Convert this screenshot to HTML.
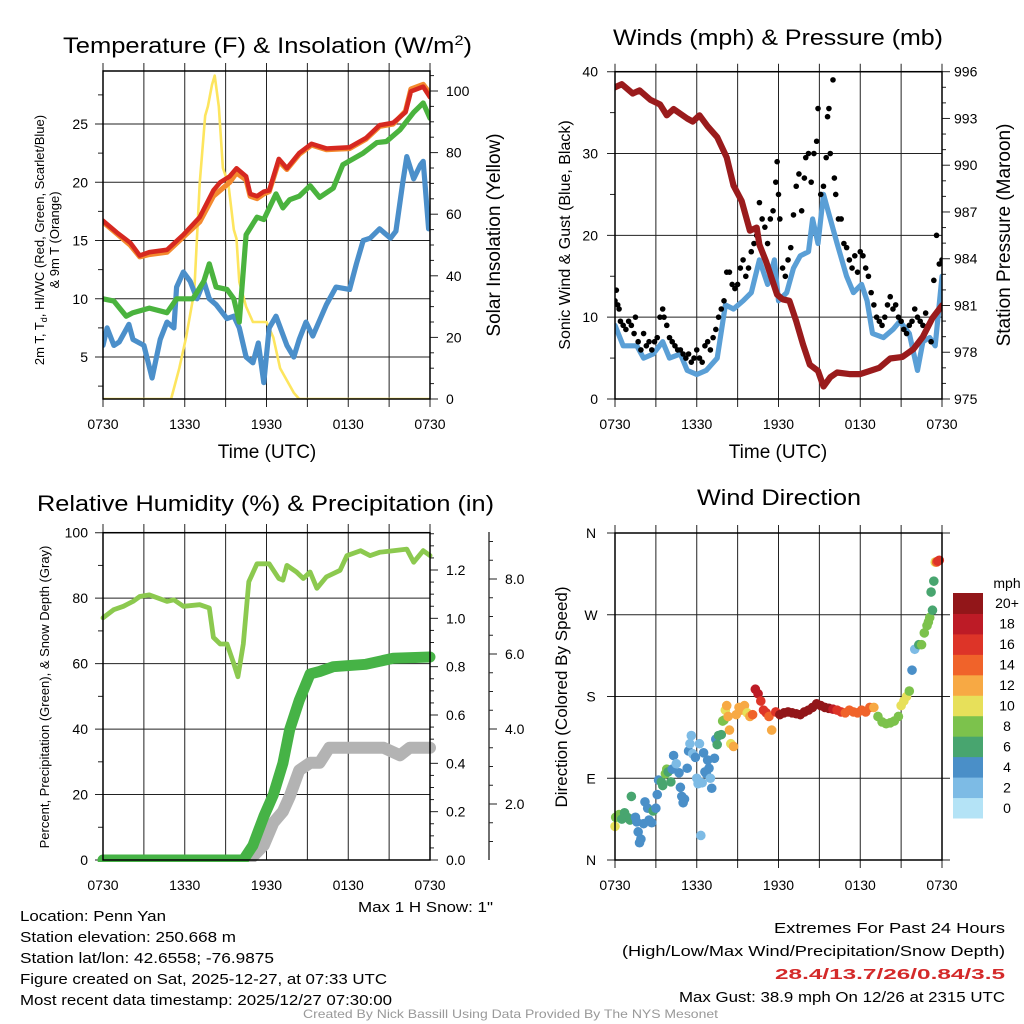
<!DOCTYPE html>
<html><head><meta charset="utf-8"><style>
html,body{margin:0;padding:0;background:#fff;}
svg{display:block;font-family:"Liberation Sans",sans-serif;}
</style></head><body>
<svg id="s" width="1024" height="1024" viewBox="0 0 1024 1024">
<defs>
<clipPath id="c1"><rect x="103" y="71" width="327" height="328"/></clipPath>
<clipPath id="c2"><rect x="615" y="71" width="327" height="328"/></clipPath>
<clipPath id="c3"><rect x="96" y="532" width="340" height="330"/></clipPath>
<clipPath id="c4"><rect x="606" y="522" width="345" height="345"/></clipPath>
</defs>
<g id="g1"></g>
<g id="g2"></g>
<g id="g3"></g>
<g id="g4"></g>
<g id="txt">
<text x="63" y="53" font-size="22" textLength="409" lengthAdjust="spacingAndGlyphs">Temperature (F) &amp; Insolation (W/m<tspan font-size="14" dy="-8">2</tspan><tspan dy="8">)</tspan></text>
<text x="613" y="45" font-size="22" textLength="330" lengthAdjust="spacingAndGlyphs">Winds (mph) &amp; Pressure (mb)</text>
<text x="37" y="511" font-size="22" textLength="457" lengthAdjust="spacingAndGlyphs">Relative Humidity (%) &amp; Precipitation (in)</text>
<text x="697" y="505" font-size="22" textLength="164" lengthAdjust="spacingAndGlyphs">Wind Direction</text>
<text x="267" y="458" font-size="19" text-anchor="middle">Time (UTC)</text>
<text x="778" y="458" font-size="19" text-anchor="middle">Time (UTC)</text>
<text transform="translate(44,240) rotate(-90)" font-size="13" text-anchor="middle">2m T, T<tspan font-size="9" dy="3">d</tspan><tspan dy="-3">, HI/WC (Red, Green, Scarlet/Blue)</tspan></text>
<text transform="translate(59,240) rotate(-90)" font-size="13" text-anchor="middle">&amp; 9m T (Orange)</text>
<text transform="translate(500,235) rotate(-90)" font-size="19" text-anchor="middle">Solar Insolation (Yellow)</text>
<text transform="translate(570,235) rotate(-90)" font-size="16" text-anchor="middle">Sonic Wind &amp; Gust (Blue, Black)</text>
<text transform="translate(1010,235) rotate(-90)" font-size="19" text-anchor="middle">Station Pressure (Maroon)</text>
<text transform="translate(49,697) rotate(-90)" font-size="13" text-anchor="middle">Percent, Precipitation (Green), &amp; Snow Depth (Gray)</text>
<text transform="translate(567,697) rotate(-90)" font-size="17" text-anchor="middle">Direction (Colored By Speed)</text>
<text x="358" y="912" font-size="15" textLength="135" lengthAdjust="spacingAndGlyphs">Max 1 H Snow: 1"</text>
<text x="20" y="921" font-size="15" textLength="146" lengthAdjust="spacingAndGlyphs">Location: Penn Yan</text>
<text x="20" y="942" font-size="15" textLength="216" lengthAdjust="spacingAndGlyphs">Station elevation: 250.668 m</text>
<text x="20" y="963" font-size="15" textLength="254" lengthAdjust="spacingAndGlyphs">Station lat/lon: 42.6558; -76.9875</text>
<text x="20" y="984" font-size="15" textLength="367" lengthAdjust="spacingAndGlyphs">Figure created on Sat, 2025-12-27, at 07:33 UTC</text>
<text x="20" y="1005" font-size="15" textLength="372" lengthAdjust="spacingAndGlyphs">Most recent data timestamp: 2025/12/27 07:30:00</text>
<text x="1005" y="933" font-size="15" text-anchor="end" textLength="231" lengthAdjust="spacingAndGlyphs">Extremes For Past 24 Hours</text>
<text x="1005" y="956" font-size="15" text-anchor="end" textLength="383" lengthAdjust="spacingAndGlyphs">(High/Low/Max Wind/Precipitation/Snow Depth)</text>
<text x="1005" y="979" font-size="15" font-weight="bold" fill="#d42a2a" text-anchor="end" textLength="230" lengthAdjust="spacingAndGlyphs">28.4/13.7/26/0.84/3.5</text>
<text x="1005" y="1002" font-size="15" text-anchor="end" textLength="326" lengthAdjust="spacingAndGlyphs">Max Gust: 38.9 mph On 12/26 at 2315 UTC</text>
<text x="303" y="1018" font-size="12" fill="#999" textLength="415" lengthAdjust="spacingAndGlyphs">Created By Nick Bassill Using Data Provided By The NYS Mesonet</text>
</g>
</svg>
<script>
// ---- shared categories ----
const timeTickLabels = ["0730","1330","1930","0130","0730"];
// ---- Panel 1 data (hours since 0730) ----
const redT = [0,1,2,2.7,3.4,4.7,5.9,7.1,8.1,8.6,9.3,9.8,10.5,10.8,11.3,11.8,12.2,12.9,13.5,14.4,15.3,16.4,18.1,19.3,20.3,21.3,22.2,22.6,23.5,24];
const redV = [16.7,15.7,14.8,13.7,14.0,14.2,15.5,17.0,19.3,20.0,20.5,21.2,20.5,19.0,18.8,19.2,19.3,22.0,21.2,22.5,23.3,22.9,23.0,23.8,24.9,25.1,26.0,27.8,28.2,27.3];
const orangeV = [16.6,15.6,14.6,13.6,13.8,14.0,15.3,16.6,18.8,19.3,20.0,20.8,20.2,18.8,18.6,19.0,19.2,21.8,21.1,22.4,23.2,22.8,22.9,23.7,24.8,25.0,26.1,28.0,28.4,27.6];
const greenT = [0,0.8,1.7,2.2,3.4,4.7,5.4,6.6,7.4,7.8,8.3,9.1,9.6,10.0,10.5,11.3,11.8,12.7,13.2,13.7,14.4,15.2,15.9,16.9,17.6,19.1,20.1,20.8,21.8,22.8,23.5,24];
const greenV = [10.0,9.8,8.5,8.8,9.2,8.8,10.0,10.0,11.5,13.0,11.0,10.8,10.0,8.0,15.5,17.0,16.8,19.0,17.8,18.5,18.8,19.7,18.7,19.5,21.5,22.5,23.4,23.5,24.5,26.0,26.8,25.5];
const blueT = [0,0.3,0.8,1.2,1.9,2.2,3.0,3.6,4.2,4.7,5.2,5.4,5.9,6.4,6.9,7.4,7.8,8.3,9.1,9.6,10.0,10.5,11.0,11.4,11.8,12.2,12.7,13.5,14.0,14.4,14.9,15.4,16.4,17.1,18.1,18.6,19.1,19.6,20.3,21.1,21.5,22.0,22.3,22.8,23.3,23.5,23.9];
const blueV = [6.0,7.5,6.0,6.3,7.8,6.5,6.0,3.2,6.5,8.0,7.5,11.0,12.3,11.5,10.0,11.5,10.0,9.5,8.3,8.5,7.5,5.0,4.5,6.2,2.8,7.5,8.5,6.0,5.0,6.5,8.0,6.8,9.5,11.0,10.8,13.0,15.0,15.2,16.0,15.2,15.8,20.0,22.2,20.3,21.5,21.8,16.0];
const solarT = [0,5.0,5.6,6.1,6.7,7.1,7.5,7.7,8.0,8.2,8.5,8.8,9.2,9.6,9.8,10.0,10.5,11.0,11.5,12.0,12.5,13.0,14.0,14.4,24];
const solarV = [0,0,10,20,35,70,92,95,102,105,95,75,70,55,52,38,30,25,25,25,20,10,2,0,0];
const tempTicks = [5,10,15,20,25];
const solarTicks = [0,20,40,60,80,100];
// ---- Panel 2 data ----
const windT = [0,0.6,1.6,2.1,2.8,3.5,4.0,4.8,5.3,6.0,6.7,7.5,8.1,8.7,9.4,10.0,10.6,11.2,11.7,12.0,12.6,13.1,13.6,14.2,14.5,14.9,15.3,15.8,16.3,17.0,17.5,18.1,18.5,18.9,19.7,20.4,20.9,21.6,22.2,22.6,23.1,23.5,24];
const windV = [9,6.5,6.5,5,5.5,7,5,5.5,3.5,3,3.5,5,11.5,11,12,13,17,14,17,12,13,16,17.5,18,22,19,25,22,19,15,13,14,12,8,7.5,8.5,9.5,8,3.5,7,7.5,6.5,15];
const gustT = [0,0.1,0.2,0.3,0.4,0.6,0.8,1.0,1.2,1.4,1.5,1.7,1.9,2.1,2.3,2.5,2.7,2.9,3.1,3.3,3.5,3.6,3.8,4.0,4.2,4.4,4.6,4.8,5.0,5.2,5.4,5.6,5.8,6.0,6.2,6.4,6.6,6.8,7.0,7.2,7.4,7.6,7.8,8.0,8.2,8.4,8.6,8.8,9.0,9.2,9.4,9.6,9.8,10.0,10.2,10.4,10.6,10.8,11.0,11.2,11.4,11.6,11.8,11.9,12.0,12.1,12.3,12.5,12.7,12.9,13.1,13.3,13.5,13.7,13.9,14.0,14.2,14.4,14.6,14.8,14.9,15.1,15.3,15.5,15.6,15.7,15.8,16.0,16.1,16.2,16.4,16.6,16.8,17.0,17.2,17.4,17.6,17.8,18.0,18.2,18.4,18.6,18.8,19.0,19.2,19.4,19.6,19.8,20.0,20.2,20.4,20.6,20.8,21.0,21.2,21.4,21.6,21.8,22.0,22.2,22.4,22.6,22.8,23.0,23.2,23.4,23.6,23.8,24.0];
const gustV = [12,13.3,11.5,11,9.5,9,8.5,9.5,9,8,10,7,6,8,6.5,7,6,7,7.5,10,11,10,9,7.5,7,6.5,6,6,5.5,5,5.5,4.5,5,6,5,4.5,6.5,7,6,7.5,8.5,10,11,12,15.5,15.5,14,13.5,14,16,17,15,16,18,19,20,24,22,21,19,22,23,26.5,29,25,22,16,15,17,18.5,22.5,26,27.5,23,27,29.5,30,26.5,30,31.5,35.5,25,26,29.5,34.5,35.5,30,39,27,25,22,22,19,18.5,17,16,17.5,15.5,18,17.5,16,15,13,11.5,10,9.5,9,10,11.5,12.5,11,11.5,10,9.5,8.5,8,9,9.5,11,10,9.5,9,10.5,9,7,14.5,20,16.5,17];
const presT = [0,0.5,1.3,1.8,2.6,3.3,3.8,4.3,5.3,5.7,6.2,6.8,7.5,8.2,8.7,9.3,9.9,10.4,10.6,11.1,11.9,12.3,12.8,13.3,13.8,14.3,14.9,15.3,15.8,16.3,17.2,18.0,18.7,19.4,20.2,21.1,21.9,22.6,23.3,24];
const presV = [995.0,995.2,994.6,994.8,994.2,993.9,993.2,993.6,993.0,992.8,993.2,992.5,991.8,990.5,988.7,987.7,985.8,986.0,984.9,983.8,981.7,981.4,981.3,980.0,978.5,977.2,976.8,975.8,976.4,976.7,976.6,976.6,976.8,977.0,977.6,977.7,978.2,979.0,980.2,981.0];
const windTicks = [0,10,20,30,40];
const presTicks = [975,978,981,984,987,990,993,996];
// ---- Panel 3 data ----
const rhT = [0,0.8,1.5,2.2,2.7,3.4,4.7,5.2,5.9,7.1,7.8,8.1,8.6,9.1,9.6,9.9,10.3,10.7,11.3,12.2,12.9,13.2,13.5,14.2,14.7,15.2,15.7,16.4,17.4,17.9,18.9,19.6,20.3,21.3,22.3,22.8,23.5,24];
const rhV = [74,76.5,77.5,79,80.5,81,79,79.5,77.5,78,77,68,66,66,60,56,66,85,90.5,90.5,86,85.5,90,88,86,88,83,86.5,88.5,93,94.5,93,94,94.5,95,91,94.5,93];
const precipT = [0,10.3,11.0,11.8,12.5,13.2,13.7,14.4,15.2,15.9,16.9,19.3,21.3,24];
const precipV = [0,0,0.06,0.18,0.27,0.40,0.54,0.66,0.77,0.78,0.80,0.81,0.835,0.84];
const snowT = [0,10.3,11.0,11.8,12.5,13.2,13.7,14.4,15.2,15.9,16.6,20.6,21.8,22.5,24];
const snowV = [0,0.4,0.6,0.9,1.5,1.8,2.2,2.9,3.1,3.1,3.5,3.5,3.3,3.5,3.5];
const rhTicks = [0,20,40,60,80,100];
const precipTicks = ["0.0","0.2","0.4","0.6","0.8","1.0","1.2"];
const snowTicks = ["2.0","4.0","6.0","8.0"];
// ---- Panel 4 data ----
const dirT = [0,0.05,0.3,0.5,0.7,0.9,1.1,1.2,1.4,1.5,1.6,1.7,1.8,1.9,2.1,2.2,2.4,2.5,2.7,2.8,3.0,3.1,3.2,3.4,3.5,3.7,3.8,3.9,4.1,4.2,4.3,4.5,4.7,4.8,4.9,5.0,5.1,5.3,5.4,5.5,5.6,5.7,5.9,6.0,6.1,6.2,6.3,6.4,6.5,6.6,6.7,6.8,6.9,7.0,7.1,7.3,7.4,7.5,7.6,7.8,7.9,8.0,8.1,8.2,8.3,8.4,8.5,8.7,8.9,9.1,9.3,9.5,9.7,9.9,10.1,10.3,10.5,10.7,10.9,11.1,11.3,11.5,11.8,12.1,12.4,12.7,13.0,13.3,13.6,13.9,14.2,14.5,14.8,15.1,15.4,15.7,16.0,16.3,16.6,16.9,17.2,17.5,17.8,18.1,18.4,18.7,19.0,19.3,19.6,19.9,20.2,20.5,20.8,21.0,21.2,21.4,21.6,21.8,22.0,22.3,22.5,22.7,22.9,23.0,23.1,23.2,23.3,23.4,23.5,23.6,23.7,23.8];
const dirDeg = [37,47,50,45,52,47,44,70,46,47,42,31,19,23,40,64,57,44,41,54,57,72,88,86,82,95,100,97,86,100,115,106,96,80,70,63,67,101,120,128,137,117,113,90,84,128,27,85,118,97,95,110,101,90,79,112,133,127,137,138,153,154,165,170,158,143,128,125,160,168,165,170,162,158,160,188,183,175,165,162,158,143,163,160,162,163,162,161,160,163,165,168,172,170,168,167,166,165,163,162,165,163,162,165,163,168,168,158,152,150,151,153,158,170,175,180,186,209,232,237,237,250,258,262,267,295,275,307,328,328,329,330];
const dirSpd = [10,8,8,6,6,6,6,6,6,4,4,4,4,4,4,4,4,4,4,6,4,4,4,6,6,8,8,6,6,4,4,2,4,4,4,4,4,4,4,2,2,2,4,2,2,2,2,2,4,4,4,4,4,2,4,4,4,6,6,6,8,8,10,12,12,12,10,12,12,12,12,12,10,12,14,18,18,16,16,16,14,12,16,20,20,20,20,20,20,20,20,20,20,20,20,20,18,16,16,14,14,14,14,14,14,14,12,8,8,8,8,8,8,10,10,10,8,4,2,6,8,8,8,8,8,6,6,6,10,14,16,16,14];
const dirTicks = ["N","E","S","W","N"];
const spdLabels = ["0","2","4","6","8","10","12","14","16","18","20+"];
const spdColors = ["#b4e3f6","#7dbbe5","#4a8fc8","#48a56f","#7cc24c","#e7e05a","#f7a944","#f0632a","#dd3428","#bd1b26","#921619"];
</script>
<script>
const NS="http://www.w3.org/2000/svg";
function mk(parent,tag,attrs){const e=document.createElementNS(NS,tag);for(const k in attrs)e.setAttribute(k,attrs[k]);parent.appendChild(e);return e;}
function xs(x0,x1){return h=>x0+(x1-x0)*h/24;}
function lin(v0,p0,v1,p1){return v=>p0+(v-v0)*(p1-p0)/(v1-v0);}
function pathD(T,V,X,Y){return T.map((t,i)=>(i?"L":"M")+X(t).toFixed(1)+","+Y(V[i]).toFixed(1)).join("");}
function txt(parent,x,y,s,size,anchor){const e=mk(parent,"text",{x:x,y:y,"font-size":size,"text-anchor":anchor||"middle"});e.textContent=s;return e;}
function vgrid(g,X,top,bot,ext){for(let h=0;h<=24;h+=3){const l=mk(g,"line",{x1:X(h),x2:X(h),y1:top-ext,y2:bot+ext,stroke:"#222","stroke-width":1});}}
function xlabels(g,X,y){timeTickLabels.forEach((s,i)=>{const e=txt(g,X(i*6),y,s,14);});}
function frame(g,x,y,w,h){const r=mk(g,"rect",{x:x,y:y,width:w,height:h,fill:"none",stroke:"#000","stroke-width":1.5});}
function hline(g,x1,x2,y){mk(g,"line",{x1:x1,x2:x2,y1:y,y2:y,stroke:"#222","stroke-width":1});}
function line(g,T,V,X,Y,col,w,clip,name){const p=mk(g,"path",{d:pathD(T,V,X,Y),fill:"none",stroke:col,"stroke-width":w,"stroke-linejoin":"round","stroke-linecap":"round","clip-path":"url(#"+clip+")"});return p;}

// Panel 1
(function(){const g=document.getElementById("g1");const X=xs(103,430);const Y=lin(5,357,25,124);const Ys=lin(0,399,100,91);
vgrid(g,X,71,399,8);
tempTicks.forEach(v=>{hline(g,95,430,Y(v));const e=txt(g,88,Y(v)+5,String(v),14,"end");});
for(let v=2.5;v<29;v+=5)hline(g,98,103,Y(v));
for(let v=0;v<=105;v+=5)hline(g,430,v%20==0?438:434,Ys(v));
solarTicks.forEach(v=>{const e=txt(g,446,Ys(v)+5,String(v),14,"start");});
line(g,solarT,solarV,X,Ys,"#fde55e",2.6,"c1","solar-line");
line(g,blueT,blueV,X,Y,"#4b8fca",5.2,"c1","scarlet-blue-line");
line(g,greenT,greenV,X,Y,"#4ab33e",5.2,"c1","dewpoint-green-line");
line(g,redT,orangeV,X,Y,"#f48a2e",5.2,"c1","temp-9m-orange-line");
line(g,redT,redV,X,Y,"#d62820",4.6,"c1","temp-2m-red-line");
frame(g,103,71,327,328);xlabels(g,X,429);})();

// Panel 2
(function(){const g=document.getElementById("g2");const X=xs(615,942);const Y=lin(0,399,40,71.7);const Yp=lin(975,399,996,71.7);
vgrid(g,X,71.7,399,8);
windTicks.forEach(v=>{hline(g,607,942,Y(v));const e=txt(g,598,Y(v)+5,String(v),14,"end");});
for(let v=5;v<40;v+=10)hline(g,610,615,Y(v));
for(let v=975;v<=996;v++)hline(g,942,(v-975)%3==0?950:946,Yp(v));
presTicks.forEach(v=>{const e=txt(g,954,Yp(v)+5,String(v),14,"start");});
line(g,windT,windV,X,Y,"#5a9fd6",5.2,"c2","sonic-wind-line");
const dg=mk(g,"g",{"clip-path":"url(#c2)"});
gustT.forEach((t,i)=>{const c=mk(dg,"circle",{cx:X(t),cy:Y(gustV[i]),r:2.8,fill:"#000"});});
line(g,presT,presV,X,Yp,"#9a1b1c",6.2,"c2","pressure-line");
frame(g,615,71.7,327,327.3);xlabels(g,X,429);})();

// Panel 3
(function(){const g=document.getElementById("g3");const X=xs(103,430);const Y=lin(0,860,100,532.7);const Yp=lin(0,860,1.2,570);const Ysn=lin(0,879,8,579);
vgrid(g,X,532.7,860,0);
for(let h=0;h<=24;h+=3)mk(g,"line",{x1:X(h),x2:X(h),y1:524,y2:532.7,stroke:"#222"});
rhTicks.forEach(v=>{hline(g,95,430,Y(v));const e=txt(g,88,Y(v)+5,String(v),14,"end");});
for(let v=10;v<100;v+=20)hline(g,98,103,Y(v));
for(let v=0;v<=1.351;v+=0.05){const maj=Math.abs(v*5-Math.round(v*5))<0.01;hline(g,430,maj?438:434,Yp(v));}
precipTicks.forEach(s=>{const e=txt(g,446,Yp(parseFloat(s))+5,s,14,"start");});
mk(g,"line",{x1:489,x2:489,y1:532,y2:860,stroke:"#222","stroke-width":1.3});
for(let v=0.5;v<=9;v+=0.5){const y=Ysn(v);if(y<532||y>860)continue;hline(g,489,v%2==0?497:493,y);}
snowTicks.forEach(s=>{const e=txt(g,505,Ysn(parseFloat(s))+5,s,14,"start");});
line(g,snowT,snowV,X,Ysn,"#b3b3b3",12,"c3","snow-depth-line");
line(g,precipT,precipV,X,Yp,"#46b346",11,"c3","precip-line");
line(g,rhT,rhV,X,Y,"#8cc94f",4.8,"c3","rh-line");
frame(g,103,532.7,327,327.3);xlabels(g,X,890);})();

// Panel 4
(function(){const g=document.getElementById("g4");const X=xs(615,942);const Y=lin(0,860,360,533);
vgrid(g,X,533,860,8);
dirTicks.forEach((s,i)=>{const y=Y(i*90);hline(g,607,950,y);const e=txt(g,591,y+5,s,14);});
const dg=mk(g,"g",{"clip-path":"url(#c4)"});
dirT.forEach((t,i)=>{const idx=Math.min(10,Math.floor(dirSpd[i]/2));const c=mk(dg,"circle",{cx:X(t),cy:Y(dirDeg[i]),r:4.8,fill:spdColors[idx]});});
frame(g,615,533,327,327);xlabels(g,X,890);
const lg=mk(g,"g",{});
const e0=txt(lg,1007,588,"mph",14);
const bh=(818-593)/11;
spdLabels.forEach((s,i)=>{const y=593+(10-i)*bh;const r=mk(lg,"rect",{x:953,y:y,width:30,height:bh+0.5,fill:spdColors[i]});const e=txt(lg,1007,y+bh/2+5,s,14);});})();
</script>
</body></html>
